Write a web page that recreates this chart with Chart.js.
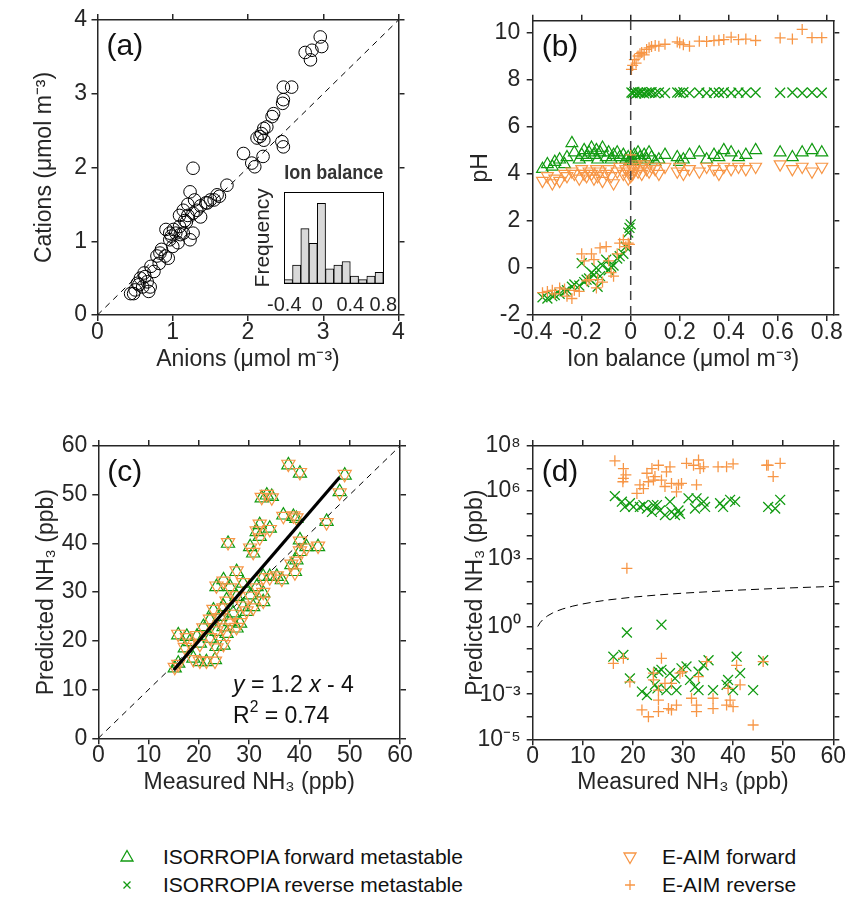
<!DOCTYPE html>
<html>
<head>
<meta charset="utf-8">
<script src="https://cdn.jsdelivr.net/npm/chart.js@4.4.1/dist/chart.umd.min.js"></script>
<style>
  html, body { margin:0; padding:0; background:#ffffff; }
  body { width:848px; height:899px; position:relative; overflow:hidden; font-family:'Liberation Sans', Arial, Helvetica, sans-serif; }
  canvas { position:absolute; }
  .lgm { position:absolute; width:24px; height:24px; }
  .lgt { position:absolute; font-size:21px; line-height:24px; color:#111; white-space:nowrap; }
</style>
</head>
<body>
<canvas id="cA" width="424" height="420" style="left:0px;top:0px;width:424px;height:420px"></canvas>
<canvas id="cB" width="424" height="420" style="left:424px;top:0px;width:424px;height:420px"></canvas>
<canvas id="cC" width="424" height="420" style="left:0px;top:420px;width:424px;height:420px"></canvas>
<canvas id="cD" width="424" height="420" style="left:424px;top:420px;width:424px;height:420px"></canvas>
<canvas id="cI" width="170" height="175" style="left:240px;top:150px;width:170px;height:175px"></canvas>

<div id="legend">
  <svg class="lgm" style="left:115px;top:845px" viewBox="0 0 24 24"><polygon points="12,5.5 18,16 6,16" fill="none" stroke="#129b12" stroke-width="1.3"/></svg>
  <div class="lgt" style="left:163px;top:845px">ISORROPIA forward metastable</div>
  <svg class="lgm" style="left:115px;top:873px" viewBox="0 0 24 24"><path d="M8.5,8.5 L15.5,15.5 M15.5,8.5 L8.5,15.5" stroke="#129b12" stroke-width="1.3"/></svg>
  <div class="lgt" style="left:163px;top:873px">ISORROPIA reverse metastable</div>
  <svg class="lgm" style="left:618px;top:845px" viewBox="0 0 24 24"><polygon points="12,18.5 18,8 6,8" fill="none" stroke="#f79646" stroke-width="1.3"/></svg>
  <div class="lgt" style="left:662px;top:845px">E-AIM forward</div>
  <svg class="lgm" style="left:618px;top:873px" viewBox="0 0 24 24"><path d="M7,12 L17,12 M12,7 L12,17" stroke="#f79646" stroke-width="1.3"/></svg>
  <div class="lgt" style="left:662px;top:873px">E-AIM reverse</div>
</div>

<script>
// ================= DATA =================
// (a) cation vs anion equivalents (µmol m-3)
const anions = [2.96,2.85,2.76,2.83,2.98,2.58,2.47,2.47,2.46,2.34,
  2.32,2.25,2.21,2.18,2.16,2.12,2.21,2.45,2.47,1.94,
  2.05,2.09,2.20,1.27,1.72,1.59,1.50,1.44,1.37,1.23,
  1.27,1.20,1.16,1.09,1.04,0.98,0.91,0.96,1.07,1.27,
  1.23,0.85,0.79,0.90,0.82,0.71,0.62,0.57,0.66,0.53,
  0.60,0.44,0.50,0.70,0.63,1.14,1.32,1.37,1.46,1.55,
  1.62,1.01,1.10,1.14,1.00,0.83,0.94,0.75,0.55,0.68,
  0.48,1.20,1.09,0.96,1.29,1.18];
const cations = [3.77,3.59,3.56,3.46,3.64,3.09,3.09,2.92,2.87,2.73,
  2.69,2.55,2.53,2.46,2.42,2.40,2.37,2.35,2.28,2.19,
  2.06,2.01,2.15,1.99,1.76,1.63,1.56,1.52,1.48,1.67,
  1.38,1.35,1.28,1.20,1.11,1.07,1.16,1.02,0.98,1.11,
  1.02,0.89,0.80,0.80,0.70,0.66,0.57,0.50,0.45,0.43,
  0.38,0.29,0.34,0.38,0.52,1.42,1.42,1.33,1.52,1.56,
  1.61,1.16,1.09,1.11,0.93,0.84,0.77,0.59,0.41,0.32,
  0.29,1.50,1.35,1.11,1.56,1.26];
const lineA = [0, 4];

// inset histogram of ion balance
const histBinCenters = [-0.35,-0.25,-0.15,-0.05,0.05,0.15,0.25,0.35,0.45,0.55,0.65,0.75];
const histCounts     = [1, 5, 15, 11, 22, 4, 5, 6, 2, 1, 2, 3];

// (b) pH vs ion balance
const ionBalance = [-0.36,-0.34,-0.32,-0.31,-0.29,-0.27,-0.26,-0.24,-0.23,-0.21,
  -0.20,-0.19,-0.18,-0.17,-0.16,-0.15,-0.14,-0.135,-0.125,-0.115,
  -0.10,-0.09,-0.08,-0.07,-0.055,-0.045,-0.03,-0.02,-0.01,-0.005,
  0.0,0.003,0.008,0.015,0.022,0.03,0.038,0.045,0.055,0.065,
  0.075,0.085,0.10,0.115,0.14,0.19,0.20,0.215,0.24,0.28,
  0.31,0.34,0.36,0.38,0.41,0.44,0.47,0.51,0.61,0.66,
  0.70,0.74,0.78];
const pHIsoFwd = [4.2,4.4,4.3,4.5,4.6,4.4,4.7,5.3,4.9,4.6,
  4.8,5.0,4.7,4.9,5.1,4.8,5.0,4.6,4.9,5.1,
  4.7,4.9,4.6,4.8,4.9,4.7,4.8,4.6,4.7,4.5,
  4.5,4.7,4.5,4.8,4.6,4.9,4.7,4.5,4.8,4.6,
  4.9,4.7,4.5,4.6,4.8,4.7,4.5,4.6,4.8,4.9,
  4.6,4.8,4.7,5.0,4.9,4.7,4.8,5.0,4.9,4.7,
  4.9,5.0,4.9];
const pHEaimFwd = [3.7,3.9,3.6,3.8,3.7,4.0,3.9,4.1,4.0,3.8,
  4.2,4.0,3.9,4.1,4.0,3.8,4.2,3.9,4.1,3.7,
  4.0,4.2,3.9,3.6,4.1,4.3,4.0,4.2,3.8,4.1,
  3.9,4.3,4.0,4.2,4.4,4.1,4.3,4.0,4.4,4.2,
  4.1,4.3,4.2,4.0,4.3,4.1,4.3,4.0,4.2,4.1,
  4.3,4.2,4.0,4.3,4.2,4.3,4.2,4.3,4.4,4.2,
  4.3,4.1,4.3];
const pHIsoRev = [-1.25,-1.3,-1.2,-1.15,-1.1,-1.0,-0.95,-0.8,-0.7,-0.75,
  0.2,-0.6,-0.5,-0.45,-0.2,-0.3,0.0,-0.8,-0.35,0.1,
  0.35,-0.1,0.05,0.1,0.4,0.5,0.6,0.9,1.5,1.7,
  1.85,7.45,7.42,7.48,7.40,7.45,7.43,7.47,7.41,7.45,
  7.44,7.46,7.42,7.45,7.43,7.45,7.44,7.46,7.42,7.45,
  7.43,7.45,7.44,7.46,7.43,7.45,7.44,7.45,7.44,7.45,
  7.43,7.45,7.44];
const pHEaimRev = [-1.05,-1.0,-0.95,-1.1,-0.85,-0.9,-1.2,-1.3,-0.95,-1.0,
  0.6,0.3,-0.55,-0.5,0.6,0.35,-0.85,-0.5,0.85,-0.6,
  0.9,0.3,-0.2,-0.35,0.6,1.05,1.2,0.9,1.05,1.0,
  4.8,8.43,8.6,8.85,8.7,9.0,9.1,9.15,9.05,9.28,
  9.35,9.4,9.45,9.42,9.5,9.6,9.55,9.48,9.42,9.63,
  9.62,9.65,9.67,9.7,9.8,9.7,9.72,9.66,9.77,9.72,
  10.13,9.78,9.78];
const zeroLineX = [0, 0];
const zeroLineY = [-2, 10.5];

// (c) predicted vs measured NH3 (ppb), forward runs
const measuredC = [37.8,40.1,49.0,48.0,33.5,34.5,32.5,36.8,38.8,39.4,
  45.4,32.1,34.1,31.5,32.1,25.8,40.1,43.7,41.4,40.1,
  30.2,30.8,39.4,38.4,39.1,35.5,34.1,36.5,32.8,27.5,
  24.9,23.5,26.2,28.8,31.5,32.8,30.2,27.5,25.5,32.8,
  30.8,28.8,24.9,22.9,26.8,29.5,24.2,22.2,26.2,28.2,
  24.9,27.5,20.9,23.5,25.5,15.9,17.6,19.6,18.2,22.2,
  20.2,17.2,23.5,24.9,18.9,21.5,23.2,20.2,15.9,15.2];
const predIsoFwdC = [56.1,54.4,54.0,50.6,49.9,49.6,49.3,45.8,45.5,45.1,
  44.5,43.8,43.1,42.4,41.4,40.0,40.7,39.3,39.3,38.3,
  39.3,38.0,36.6,35.6,34.2,33.2,33.2,32.5,33.2,34.2,
  32.5,31.1,31.1,31.8,31.1,29.8,29.4,29.1,28.4,28.0,
  27.0,27.0,27.0,26.3,25.7,26.0,25.0,24.3,23.9,23.6,
  22.9,22.6,22.9,21.9,21.5,21.2,20.9,20.9,19.8,20.5,
  19.5,18.5,18.8,19.1,16.4,15.7,16.1,15.7,15.4,14.4];
const predEaimFwdC = [56.3,54.6,54.2,50.4,50.1,49.4,49.5,45.6,45.7,45.3,
  44.3,44.0,42.9,42.6,41.2,40.2,40.5,39.5,39.1,38.5,
  39.1,38.2,36.4,35.8,34.0,33.4,33.0,32.7,33.0,34.4,
  32.3,31.3,30.9,32.0,30.9,30.0,29.2,29.3,28.2,28.2,
  26.8,27.2,26.8,26.5,25.5,26.2,24.8,24.5,23.7,23.8,
  22.7,22.8,22.7,22.1,21.3,21.4,20.7,21.1,19.6,20.7,
  19.3,18.7,18.6,19.3,16.2,15.9,15.9,15.9,15.2,14.6];
const fitX = [15, 48];
const fitY = [14, 53.6];
const lineC = [0, 60];
const fitNoteAt = [26.8, 9.5, 3.2];   // x, y of equation line, y of R² line (data units)

// (d) predicted vs measured NH3 (ppb), reverse runs (log scale)
const measIsoRevD = [16.4,17.8,18.4,19.4,21.4,22.8,23.8,24.8,25.4,26.4,
  27.4,27.7,29.1,29.4,31.1,32.7,32.4,34.1,34.4,37.4,
  38.0,39.4,40.4,47.0,48.4,49.4,24.1,22.1,20.1,28.4,
  16.1,18.1,19.4,21.8,22.8,23.8,25.1,25.7,24.4,24.9,
  26.7,27.4,28.4,28.7,29.7,30.7,31.4,32.4,33.1,33.1,
  34.1,35.1,36.0,39.0,40.0,40.7,41.4,44.0,46.0,38.7,
  25.7,18.8];
const predIsoRevD = [6.0e5,3.4e5,2.0e5,2.9e5,2.0e5,1.7e5,1.2e5,2.4e5,1.4e5,8.7e4,
  3.4e5,1.2e5,1.4e5,9.8e4,4.8e5,4.8e5,1.7e5,3.4e5,2.0e5,2.9e5,
  2.0e5,4.1e5,3.4e5,2.0e5,1.7e5,4.1e5,2.4e5,2.4e5,2.0e5,8.7e4,
  4.6e-2,5.5e-2,5.0e-3,1.3e-3,9.1e-4,8.5e-3,1.0e-2,1.2e-2,2.6e-3,1.8e-3,
  1.5e-3,8.5e-3,5.0e-3,1.5e-3,1.4e-2,1.7e-2,4.3e-3,2.1e-3,1.5e-3,1.0e-2,
  1.9e-2,3.2e-2,1.5e-3,4.3e-3,1.5e-3,4.6e-2,8.5e-3,1.5e-3,3.2e-2,2.6e-3,
  1.2,0.54];
const measEaimRevD = [16.4,18.1,18.1,18.6,18.0,21.4,20.8,22.1,23.1,23.8,
  25.1,24.4,25.7,26.7,27.4,27.7,29.1,29.7,26.4,28.7,
  24.1,22.8,30.7,32.1,33.1,33.4,34.1,32.7,37.0,38.7,
  40.0,47.0,49.4,48.0,46.7,
  16.1,18.1,19.4,25.7,24.1,21.8,23.1,25.1,27.1,27.7,
  28.7,25.1,25.1,26.4,27.7,29.4,29.9,31.7,32.7,32.7,
  33.1,34.7,36.0,36.0,38.7,39.4,40.0,39.0,41.4,40.7,
  44.0,46.0,24.1,18.8];
const predEaimRevD = [2.2e7,1.0e7,3.7e6,5.2e6,2.6e6,1.9e6,7.9e5,1.3e6,2.6e6,1.0e7,
  1.4e7,4.4e6,3.1e6,7.2e6,1.2e7,2.2e6,1.9e6,2.2e6,1.6e6,9.3e5,
  3.1e6,6.2e6,1.7e7,1.4e7,2.4e7,1.0e7,1.2e7,1.9e6,1.2e7,1.2e7,
  1.6e7,1.4e7,1.7e7,4.4e6,1.4e7,
  2.3e-2,3.9e-2,3.5e-3,3.9e-2,4.3e-3,2.0e-4,1.0e-4,1.7e-4,2.3e-4,2.0e-4,
  3.3e-4,5.5e-4,1.5e-3,3.0e-3,3.0e-3,8.5e-3,1.0e-2,6.6e-4,3.3e-4,1.7e-4,
  6.0e-3,2.8e-2,6.6e-4,2.3e-4,3.3e-4,5.5e-4,2.8e-4,1.8e-3,2.6e-3,1.9e-2,
  4.3e-5,2.8e-2,8.5e-3,380];
const lineD = [1,1.5,2,3,4,5,6,8,10,12,15,20,25,30,40,50,60];
const dTickExps  = [-5,-4,-3,-2,-1,0,1,2,3,4,5,6,7,8];
const dLabelExps = [-5,-3,0,3,6,8];

// ================= STYLE =================
const FONT = "'Liberation Sans', Arial, Helvetica, sans-serif";
const INK = '#262626';
const GREEN = '#129b12';
const ORANGE = '#f79646';
const TS = 23;

function pts(xs, ys) { return xs.map((x, i) => ({x: x, y: ys[i]})); }
function fmtNum(v) { const r = Math.round(v * 1000) / 1000; return String(r); }
const SUP = {'-':'\u207B','0':'\u2070','1':'\u00B9','2':'\u00B2','3':'\u00B3','4':'\u2074','5':'\u2075','6':'\u2076','7':'\u2077','8':'\u2078','9':'\u2079'};
function powLabel(e) { return '10' + String(e).split('').map(c => SUP[c]).join(''); }

function frame(o) {
  const grid = {display:true, drawOnChartArea:false, drawTicks:true, tickLength:6, color:INK, lineWidth:1.5};
  const border = {display:true, color:INK, width:1.5};
  const tf = {family:FONT, size:TS};
  const xt = {stepSize:o.xStep, includeBounds:false, autoSkip:false, maxRotation:0, minRotation:0,
              font:tf, color:INK, padding:(o.xTickPad !== undefined ? o.xTickPad : -2), callback:(v) => fmtNum(v)};
  const yt = Object.assign({stepSize:o.yStep, includeBounds:false, autoSkip:false,
              font:tf, color:INK, padding:(o.yTickPad !== undefined ? o.yTickPad : 5), callback:(v) => fmtNum(v)}, o.yTicks || {});
  const yType = o.yType || 'linear';
  return {
    x: {type:'linear', axis:'x', position:'bottom', min:o.xMin, max:o.xMax, grid:grid, border:border, ticks:xt,
        title:{display:true, text:o.xTitle, font:tf, color:INK, padding:{top:0, bottom:o.xTitlePad}},
        afterFit:(s) => { s.height = o.bottom; }},
    xTop: {type:'linear', axis:'x', position:'top', min:o.xMin, max:o.xMax, grid:grid, border:border,
        ticks:Object.assign({}, xt, {display:false}),
        afterFit:(s) => { s.height = o.top; }},
    y: {type:yType, axis:'y', position:'left', min:o.yMin, max:o.yMax, grid:grid, border:border, ticks:yt,
        afterBuildTicks:o.yBuild,
        title:{display:true, text:o.yTitle, font:tf, color:INK, padding:{top:o.yTitlePad, bottom:0}},
        afterFit:(s) => { s.width = o.left; }},
    yRight: {type:yType, axis:'y', position:'right', min:o.yMin, max:o.yMax, grid:grid, border:border,
        ticks:Object.assign({}, yt, {display:false}), afterBuildTicks:o.yBuild,
        afterFit:(s) => { s.width = o.right; }}
  };
}

const panelLabel = {
  id: 'panelLabel',
  afterDraw(chart, args, opts) {
    const {ctx, chartArea} = chart;
    ctx.save();
    ctx.font = '30px ' + FONT;
    ctx.fillStyle = '#111';
    ctx.textAlign = 'left';
    ctx.textBaseline = 'alphabetic';
    ctx.fillText(opts.text, chartArea.left + 9, chartArea.top + 35);
    ctx.restore();
  }
};

function drawRich(ctx, x, y, parts, size) {
  let cx = x;
  for (const p of parts) {
    const fs = (p.sup || p.sub) ? size * 0.68 : size;
    ctx.font = (p.italic ? 'italic ' : '') + fs + 'px ' + FONT;
    const dy = p.sup ? -size * 0.45 : (p.sub ? size * 0.22 : 0);
    ctx.fillText(p.t, cx, y + dy);
    cx += ctx.measureText(p.t).width;
  }
}

const fitNote = {
  id: 'fitNote',
  afterDraw(chart) {
    const {ctx, scales} = chart;
    const x0 = scales.x.getPixelForValue(fitNoteAt[0]);
    const y1 = scales.y.getPixelForValue(fitNoteAt[1]);
    const y2 = scales.y.getPixelForValue(fitNoteAt[2]);
    ctx.save();
    ctx.fillStyle = '#111';
    ctx.textAlign = 'left';
    ctx.textBaseline = 'alphabetic';
    drawRich(ctx, x0, y1, [{t:'y', italic:true}, {t:' = 1.2 '}, {t:'x', italic:true}, {t:' - 4'}], TS);
    drawRich(ctx, x0, y2, [{t:'R'}, {t:'2', sup:true}, {t:' = 0.74'}], TS);
    ctx.restore();
  }
};

function baseOptions(scales, label) {
  return {
    responsive:false, animation:false, events:[],
    layout:{padding:0},
    plugins:{legend:{display:false}, tooltip:{enabled:false}, panelLabel:{text:label}},
    scales:scales
  };
}

function markerSet(data, style, color, radius, rot, width) {
  return {data:data, showLine:false, pointStyle:style, pointRadius:radius, pointHoverRadius:radius,
          pointRotation:rot || 0, pointBorderColor:color, pointBackgroundColor:'rgba(0,0,0,0)',
          pointBorderWidth:width || 1.2, borderColor:color};
}
function lineSet(data, color, width, dash) {
  return {data:data, showLine:true, borderColor:color, borderWidth:width, borderDash:dash || [],
          pointRadius:0, pointHoverRadius:0, fill:false, tension:0};
}

// ================= (a) =================
new Chart(document.getElementById('cA'), {
  type:'scatter',
  data:{datasets:[
    markerSet(pts(anions, cations), 'circle', '#000', 6.3, 0, 1),
    lineSet(pts(lineA, lineA), '#000', 1, [6, 5])
  ]},
  options:baseOptions(frame({xMin:0, xMax:4, xStep:1, yMin:0, yMax:4, yStep:1,
      left:97.5, right:25.5, top:20, bottom:105,
      xTitle:'Anions (\u03BCmol m\u207B\u00B3)', yTitle:'Cations (\u03BCmol m\u207B\u00B3)',
      xTitlePad:47, yTitlePad:31, yTickPad:4.5}), '(a)'),
  plugins:[panelLabel]
});

// inset histogram
new Chart(document.getElementById('cI'), {
  type:'bar',
  data:{datasets:[{data:pts(histBinCenters, histCounts), backgroundColor:'#d9d9d9', borderColor:'#000',
        borderWidth:1, borderSkipped:false, barPercentage:1, categoryPercentage:1}]},
  options:{
    responsive:false, animation:false, events:[], layout:{padding:0},
    plugins:{legend:{display:false}, tooltip:{enabled:false}},
    scales:{
      x:{type:'linear', axis:'x', position:'bottom', min:-0.4, max:0.8, offset:false,
         grid:{display:false, drawTicks:false}, border:{display:true, color:'#000', width:1},
         ticks:{stepSize:0.4, includeBounds:false, autoSkip:false, maxRotation:0, font:{family:FONT, size:20}, color:INK, padding:9.7,
                callback:(v) => fmtNum(v)},
         afterFit:(s) => { s.height = 41.7; }},
      xTop:{type:'linear', axis:'x', position:'top', min:-0.4, max:0.8, offset:false,
         grid:{display:false, drawTicks:false}, border:{display:true, color:'#000', width:1},
         ticks:{display:false},
         title:{display:true, text:'Ion balance', font:{family:FONT, size:21, weight:'bold'}, color:'#333', padding:{top:11, bottom:0}},
         afterFit:(s) => { s.height = 42.3; }},
      y:{type:'linear', axis:'y', position:'left', min:0, max:25,
         grid:{display:false, drawTicks:false}, border:{display:true, color:'#000', width:1},
         ticks:{display:false},
         title:{display:true, text:'Frequency', font:{family:FONT, size:21}, color:INK, padding:{top:10.4, bottom:0}},
         afterFit:(s) => { s.width = 44.3; }},
      yRight:{type:'linear', axis:'y', position:'right', min:0, max:25,
         grid:{display:false, drawTicks:false}, border:{display:true, color:'#000', width:1},
         ticks:{display:false},
         afterFit:(s) => { s.width = 26.7; }}
    }
  }
});

// ================= (b) =================
new Chart(document.getElementById('cB'), {
  type:'scatter',
  data:{datasets:[
    lineSet(pts(zeroLineX, zeroLineY), '#404040', 1.5, [9, 6]),
    markerSet(pts(ionBalance, pHEaimRev), 'cross', ORANGE, 5.5, 0, 1.3),
    markerSet(pts(ionBalance, pHIsoRev), 'crossRot', GREEN, 7, 0, 1.3),
    markerSet(pts(ionBalance, pHEaimFwd), 'triangle', ORANGE, 6.8, 180, 1.2),
    markerSet(pts(ionBalance, pHIsoFwd), 'triangle', GREEN, 6.8, 0, 1.2)
  ]},
  options:baseOptions(frame({xMin:-0.4, xMax:0.827, xStep:0.2, yMin:-2, yMax:10.5, yStep:2,
      left:108.7, right:14.7, top:20.7, bottom:105,
      xTitle:'Ion balance (\u03BCmol m\u207B\u00B3)', yTitle:'pH',
      xTitlePad:47, yTitlePad:43, yTickPad:6.5}), '(b)'),
  plugins:[panelLabel]
});

// ================= (c) =================
new Chart(document.getElementById('cC'), {
  type:'scatter',
  data:{datasets:[
    lineSet(pts(fitX, fitY), '#000', 3.2, []),
    markerSet(pts(measuredC, predEaimFwdC), 'triangle', ORANGE, 7.6, 180, 1.2),
    markerSet(pts(measuredC, predIsoFwdC), 'triangle', GREEN, 7.6, 0, 1.2),
    lineSet(pts(lineC, lineC), '#000', 1, [6, 5])
  ]},
  options:baseOptions(frame({xMin:0, xMax:60, xStep:10, yMin:0, yMax:60, yStep:10,
      left:98.3, right:24, top:26, bottom:101.7,
      xTitle:'Measured NH\u2083 (ppb)', yTitle:'Predicted NH\u2083 (ppb)',
      xTitlePad:44, yTitlePad:33, yTickPad:5}), '(c)'),
  plugins:[panelLabel, fitNote]
});

// ================= (d) =================
new Chart(document.getElementById('cD'), {
  type:'scatter',
  data:{datasets:[
    markerSet(pts(measEaimRevD, predEaimRevD), 'cross', ORANGE, 5.5, 0, 1.3),
    markerSet(pts(measIsoRevD, predIsoRevD), 'crossRot', GREEN, 7, 0, 1.3),
    lineSet(pts(lineD, lineD), '#000', 1, [8, 5])
  ]},
  options:baseOptions(frame({xMin:0, xMax:60, xStep:10, yMin:1e-5, yMax:1e8, yType:'logarithmic',
      yBuild:(s) => { s.ticks = dTickExps.map(e => ({value:Math.pow(10, e)})); },
      yTicks:{callback:(v) => { const e = Math.round(Math.log10(v)); return dLabelExps.includes(e) ? powLabel(e) : ''; }},
      yTickPad:6,
      left:108.7, right:14.7, top:26, bottom:100.7,
      xTitle:'Measured NH\u2083 (ppb)', yTitle:'Predicted NH\u2083 (ppb)',
      xTitlePad:44, yTitlePad:38}), '(d)'),
  plugins:[panelLabel]
});
</script>
</body>
</html>
